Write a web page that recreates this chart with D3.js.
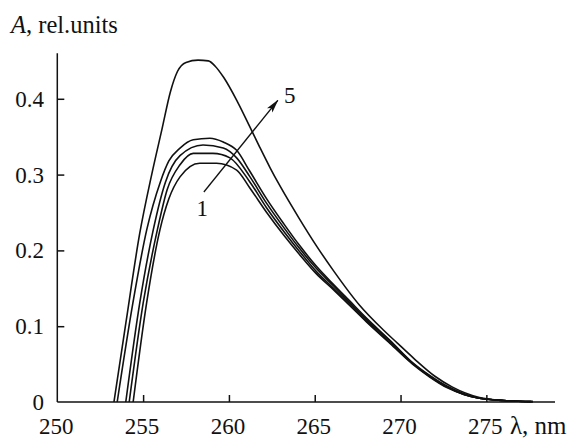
<script src="https://d3js.org/d3.v7.min.js"></script>
<style>
  body { margin: 0; background: white; }
</style>
<div id="chart"></div>
<script type="text/javascript">
// spectra, [wavelength nm, absorbance]
curve1 = [[254.42,0],[255.2,0.13],[255.98,0.227],[256.5,0.268],[257.15,0.297],[258.3,0.315],[259.28,0.315],[260.45,0.306],[261.2,0.283],[262.2,0.25],[263.2,0.22],[264.1,0.195],[265.1,0.169],[266.1,0.148],[267.05,0.127],[268,0.106],[269.4,0.077],[270.7,0.05],[271.7,0.033],[272.7,0.019],[273.7,0.01],[274.6,0.005],[276,0.002],[277.6,0.0005]]
curve2 = [[254.19,0],[255.0,0.13],[255.83,0.227],[256.4,0.28],[257.15,0.313],[257.92,0.328],[259.07,0.328],[260.06,0.322],[261.2,0.291],[262.2,0.256],[263.2,0.225],[264.1,0.199],[265.1,0.172],[266.1,0.15],[267.05,0.129],[268,0.107],[269.4,0.078],[270.7,0.051],[271.7,0.034],[272.7,0.02],[273.7,0.01],[274.6,0.005],[276,0.002],[277.6,0.0005]]
curve3 = [[253.99,0],[254.8,0.13],[255.59,0.227],[256.3,0.29],[257.15,0.325],[258.49,0.339],[259.67,0.335],[260.45,0.322],[261.2,0.298],[262.2,0.262],[263.2,0.23],[264.1,0.203],[265.1,0.176],[266.1,0.153],[267.05,0.131],[268,0.109],[269.4,0.08],[270.7,0.051],[271.7,0.034],[272.7,0.02],[273.7,0.01],[274.6,0.005],[276,0.002],[277.7,0.0005]]
curve4 = [[253.49,0],[254.4,0.13],[255.21,0.227],[256.0,0.29],[256.5,0.318],[257.15,0.335],[257.92,0.346],[258.89,0.348],[259.67,0.343],[260.45,0.332],[261.2,0.305],[262.2,0.268],[263.2,0.235],[264.1,0.207],[265.1,0.179],[266.1,0.155],[267.05,0.133],[268,0.111],[269.4,0.081],[270.7,0.052],[271.7,0.035],[272.7,0.021],[273.7,0.011],[274.6,0.005],[276,0.002],[277.7,0.0005]]
curve5 = [[253.3,0],[254.0,0.105],[254.8,0.222],[255.5,0.3],[256.1,0.36],[256.6,0.41],[257.0,0.436],[257.5,0.448],[258.2,0.451],[258.8,0.45],[259.2,0.443],[259.7,0.428],[260.5,0.396],[261.2,0.364],[261.8,0.336],[262.4,0.309],[263.0,0.284],[264.1,0.242],[265.1,0.206],[266.1,0.173],[267.6,0.128],[269.0,0.095],[269.8,0.078],[270.8,0.057],[272,0.034],[273,0.02],[274.6,0.006],[276,0.002],[277.7,0.0005]]
spectra = [curve1, curve2, curve3, curve4, curve5]

xTicks = [255, 260, 265, 270, 275]
yTicks = [0.1, 0.2, 0.3, 0.4]
xLabels = [250, 255, 260, 265, 270, 275]
yLabels = [0, 0.1, 0.2, 0.3, 0.4]

// arrow 1 -> 5
arrowFrom = [258.54, 0.277]
arrowTo = [262.85, 0.398]
label1 = [258.45, 0.245]
label5 = [263.55, 0.395]

width = 582
height = 439
serif = '"Liberation Serif", "DejaVu Serif", "Times New Roman", serif'

svg = d3.select('#chart')
  .append('svg')
  .attr('width', width)
  .attr('height', height)
  .attr('font-family', serif)

xScale = d3.scaleLinear()
  .domain([250, 279])
  .range([57.3, 555])

yScale = d3.scaleLinear()
  .domain([0, 0.46])
  .range([402, 53.3])

svg.append('defs')
  .append('marker')
  .attr('id', 'head')
  .attr('viewBox', '0 0 14 8')
  .attr('refX', 13)
  .attr('refY', 4)
  .attr('markerWidth', 14)
  .attr('markerHeight', 8)
  .attr('markerUnits', 'userSpaceOnUse')
  .attr('orient', 'auto')
  .append('path')
  .attr('d', 'M0,0.5 L14,4 L0,7.5 L3,4 Z')
  .attr('fill', '#111')

// axes (ticks pointing inward)
xAxis = d3.axisTop(xScale)
  .tickValues(xTicks)
  .tickSize(7)
  .tickFormat('')

yAxis = d3.axisRight(yScale)
  .tickValues(yTicks)
  .tickSize(7)
  .tickFormat('')

svg.append('g')
  .attr('transform', `translate(0 ${yScale(0)})`)
  .call(xAxis)
  .call(g => g.select('.domain').attr('d', `M${xScale(250)},0H${xScale(279)}`))

svg.append('g')
  .attr('transform', `translate(${xScale(250)} 0)`)
  .call(yAxis)
  .call(g => g.select('.domain').attr('d', `M0,${yScale(0)}V${yScale(0.46)}`))

svg.selectAll('.domain, .tick line')
  .attr('stroke', '#111')
  .attr('stroke-width', 1.5)

svg.selectAll('text.xl')
  .data(xLabels)
  .join('text')
  .attr('class', 'xl')
  .attr('x', d => xScale(d) - 1)
  .attr('y', 434)
  .attr('text-anchor', 'middle')
  .attr('font-family', serif)
  .attr('font-size', '23px')
  .attr('fill', '#111')
  .text(d => d)

svg.selectAll('text.yl')
  .data(yLabels)
  .join('text')
  .attr('class', 'yl')
  .attr('x', 44)
  .attr('y', d => yScale(d) + 8)
  .attr('text-anchor', 'end')
  .attr('font-family', serif)
  .attr('font-size', '23px')
  .attr('fill', '#111')
  .text(d => d)

svg.append('text')
  .attr('x', 510)
  .attr('y', 434)
  .attr('font-family', serif)
  .attr('font-size', '25px')
  .attr('fill', '#111')
  .text('λ, nm')

title = svg.append('text')
  .attr('x', 11)
  .attr('y', 33)
  .attr('font-family', serif)
  .attr('font-size', '24.5px')
  .attr('fill', '#111')
title.append('tspan').attr('font-style', 'italic').text('A')
title.append('tspan').text(', rel.units')

line = d3.line()
  .x(d => xScale(d[0]))
  .y(d => yScale(d[1]))
  .curve(d3.curveMonotoneX)

svg.append('g')
  .selectAll('path')
  .data(spectra)
  .join('path')
  .attr('d', line)
  .attr('fill', 'none')
  .attr('stroke', '#111')
  .attr('stroke-width', 1.6)

svg.append('line')
  .attr('x1', xScale(arrowFrom[0]))
  .attr('y1', yScale(arrowFrom[1]))
  .attr('x2', xScale(arrowTo[0]))
  .attr('y2', yScale(arrowTo[1]))
  .attr('stroke', '#111')
  .attr('stroke-width', 1.3)
  .attr('marker-end', 'url(#head)')

svg.append('text')
  .attr('x', xScale(label1[0]))
  .attr('y', yScale(label1[1]))
  .attr('text-anchor', 'middle')
  .attr('font-family', serif)
  .attr('font-size', '23px')
  .attr('fill', '#111')
  .text('1')

svg.append('text')
  .attr('x', xScale(label5[0]))
  .attr('y', yScale(label5[1]))
  .attr('text-anchor', 'middle')
  .attr('font-family', serif)
  .attr('font-size', '23px')
  .attr('fill', '#111')
  .text('5')
</script>
